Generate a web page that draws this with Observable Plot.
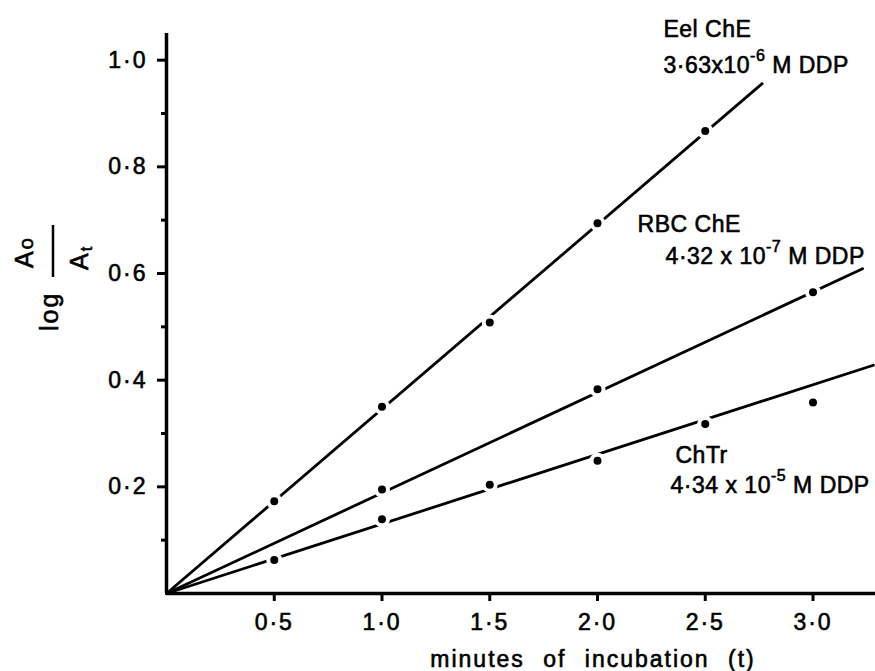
<!DOCTYPE html>
<html><head><meta charset="utf-8">
<script src="https://cdn.jsdelivr.net/npm/d3@7"></script>
<script src="https://cdn.jsdelivr.net/npm/@observablehq/plot@0.6"></script>
<style>
body{margin:0;background:#fff;}
#chart svg{display:block;}
#chart svg text{stroke:#000;stroke-width:0.6px;}
</style>
</head><body><div id="chart"></div>
<script>
// Data
const eelX = [0.5, 1.0, 1.5, 2.0, 2.5];
const eelY = [0.173, 0.350, 0.508, 0.694, 0.867];
const rbcX = [1.0, 2.0, 3.0];
const rbcY = [0.195, 0.383, 0.565];
const chtrX = [0.5, 1.0, 1.5, 2.0, 2.5, 3.0];
const chtrY = [0.063, 0.139, 0.204, 0.249, 0.318, 0.358];
// straight lines drawn from the origin to these end points
const lineSeries = ["Eel ChE", "RBC ChE", "ChTr"];
const lineEndX = [2.764, 3.23, 3.28];
const lineEndY = [0.956, 0.609, 0.428];
// axes
const xTicks = [0.5, 1.0, 1.5, 2.0, 2.5, 3.0];
const yTicks = [0.2, 0.4, 0.6, 0.8, 1.0];
const yMinorTicks = [0.1, 0.3, 0.5, 0.7, 0.9];
const xLabel = "minutes of incubation (t)";
// labels
const labelNames = ["Eel ChE", "RBC ChE", "ChTr"];
const labelConc = ["3·63x10^-6^ M DDP", "4·32 x 10^-7^ M DDP", "4·34 x 10^-5^ M DDP"];

// annotation anchors (data units)
const nameAt = [[2.306, 1.043], [2.186, 0.677], [2.362, 0.244]];
const concAt = [[2.306, 0.976], [2.316, 0.617], [2.339, 0.188]];

const fmt = d => d.toFixed(1).replace(".", "·");
const points = [
  ...eelX.map((x, i) => ({s: "Eel ChE", x, y: eelY[i]})),
  ...rbcX.map((x, i) => ({s: "RBC ChE", x, y: rbcY[i]})),
  ...chtrX.map((x, i) => ({s: "ChTr", x, y: chtrY[i]}))
];
const lines = lineSeries.flatMap((s, i) => [{s, x: 0, y: 0}, {s, x: lineEndX[i], y: lineEndY[i]}]);
const labels = [
  ...labelNames.map((t, i) => ({t, x: nameAt[i][0], y: nameAt[i][1]})),
  ...labelConc.map((t, i) => ({t, x: concAt[i][0], y: concAt[i][1]}))
];
const labelTexts = new Set([...labelNames, ...labelConc]);

const plot = Plot.plot({
  width: 875, height: 671,
  marginLeft: 166, marginRight: 0, marginTop: 33, marginBottom: 78,
  x: {domain: [0, 3.29], axis: null, label: null},
  y: {domain: [0, 1.05], axis: null, label: null},
  style: {fontFamily: "'Liberation Sans', Arial, sans-serif", fontSize: "23px", letterSpacing: "2px", background: "#fff", color: "#000"},
  marks: [
    Plot.line(lines, {x: "x", y: "y", z: "s", stroke: "#000", strokeWidth: 2.8}),
    Plot.dot(points, {x: "x", y: "y", r: 8, fill: "#fff"}),
    Plot.dot(points, {x: "x", y: "y", r: 4, fill: "#000"}),
    Plot.ruleY([0], {stroke: "#000", strokeWidth: 3.5}),
    Plot.ruleX([0], {stroke: "#000", strokeWidth: 3.5}),
    Plot.axisX(xTicks, {tickSize: 8, tickPadding: 12, strokeWidth: 3, tickFormat: fmt, fontSize: 23, label: null}),
    Plot.axisY(yTicks, {tickSize: 9, tickPadding: 10, strokeWidth: 3, tickFormat: fmt, fontSize: 23, label: null}),
    Plot.axisY(yMinorTicks, {tickSize: 5, strokeWidth: 3, tickFormat: () => "", label: null}),
    Plot.text(labels, {x: "x", y: "y", text: "t", textAnchor: "start", lineAnchor: "bottom", fontSize: 23, fill: "#000"}),
    Plot.text([xLabel], {frameAnchor: "bottom", dx: 72, dy: 73, lineAnchor: "bottom", fontSize: 23, fill: "#000"})
  ]
});

// annotation labels: tighter letter spacing and superscripts
d3.select(plot).selectAll("text").each(function() {
  const t = this.textContent;
  const sel = d3.select(this);
  if (labelTexts.has(t)) sel.style("letter-spacing", "0.5px");
  if (t === xLabel) sel.style("word-spacing", "10px");
  if (!t.includes("^")) return;
  const parts = t.split("^");
  sel.text(null);
  sel.append("tspan").text(parts[0]);
  sel.append("tspan").attr("dy", -12).attr("font-size", 16).text(parts[1]);
  sel.append("tspan").attr("dy", 12).text(parts[2]);
});

// y axis label: log (A_o / A_t), rotated
const svg = d3.select(plot);
const g = svg.append("g").attr("font-size", 25).attr("fill", "#000").attr("text-anchor", "start");
g.append("text").attr("transform", "translate(58,331) rotate(-90)").text("log");
g.append("line").attr("x1", 53).attr("x2", 53).attr("y1", 225).attr("y2", 277).attr("stroke", "#000").attr("stroke-width", 2.5);
const num = g.append("text").attr("transform", "translate(33,268) rotate(-90)");
num.append("tspan").text("A");
num.append("tspan").attr("font-size", 20).text("o");
const den = g.append("text").attr("transform", "translate(88,270) rotate(-90)");
den.append("tspan").text("A");
den.append("tspan").attr("dy", 4).attr("font-size", 16).text("t");

document.getElementById("chart").appendChild(plot);
</script>
</body></html>
